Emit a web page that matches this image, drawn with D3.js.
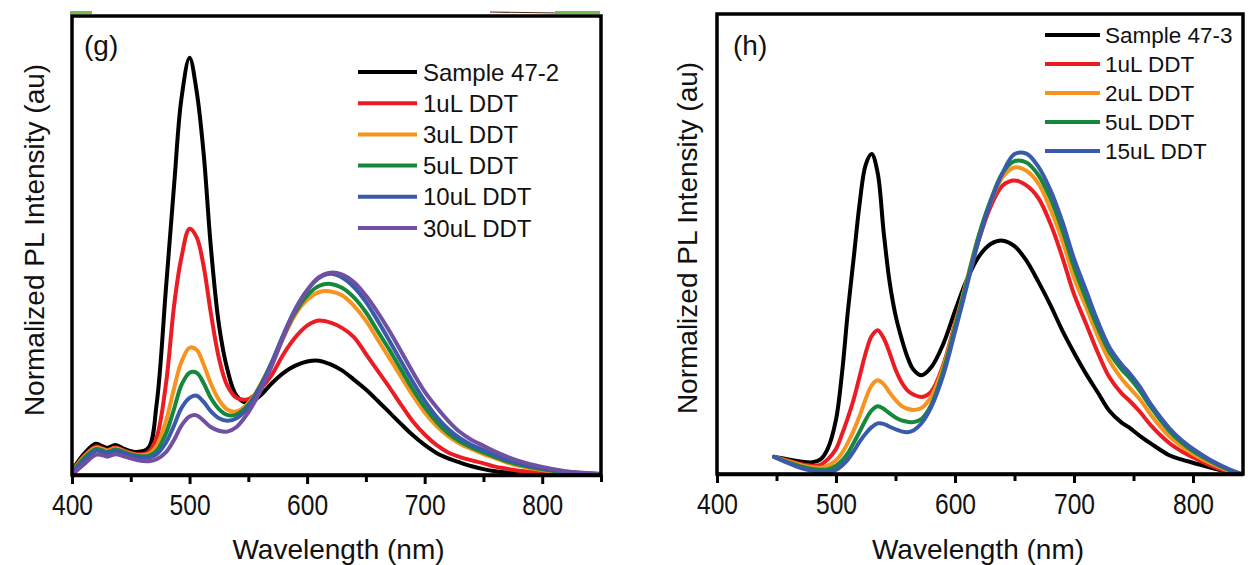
<!DOCTYPE html>
<html>
<head>
<meta charset="utf-8">
<script src="https://cdn.jsdelivr.net/npm/d3@7"></script>
<style>
  html, body { margin: 0; padding: 0; background: #fff; }
  svg { display: block; }
  text { font-family: "Liberation Sans", Arial, sans-serif; fill: #111; }
</style>
</head>
<body>
<svg id="chart" width="1248" height="565"></svg>
<script>
// ---------- Panel (g): Sample 47-2 with DDT additions ----------
const wavelengthsG = [400, 410, 420, 425, 430, 437, 445, 455, 465, 472, 480, 487, 493, 500, 506, 512, 518, 525, 532, 540,
  550, 560, 570, 580, 590, 600, 610, 620, 630, 640, 650, 660, 670, 680, 690, 700, 710, 720, 730, 740,
  750, 760, 770, 780, 800, 820, 850];
const seriesNamesG = ["Sample 47-2", "1uL DDT", "3uL DDT", "5uL DDT", "10uL DDT", "30uL DDT"];
const sample472 = [0.01, 0.05, 0.075, 0.07, 0.065, 0.072, 0.062, 0.055, 0.065, 0.17, 0.45, 0.70, 0.90, 1.0, 0.92, 0.77, 0.55, 0.36, 0.255, 0.19,
  0.172, 0.19, 0.22, 0.245, 0.262, 0.272, 0.274, 0.265, 0.25, 0.228, 0.205, 0.178, 0.15, 0.122, 0.095, 0.072, 0.053, 0.04, 0.03, 0.021,
  0.014, 0.009, 0.006, 0.004, 0.002, 0.001, 0.0];
const ddt1G = [0.008, 0.045, 0.068, 0.065, 0.06, 0.066, 0.058, 0.05, 0.055, 0.09, 0.22, 0.41, 0.52, 0.59, 0.57, 0.50, 0.39, 0.28, 0.215, 0.185,
  0.182, 0.205, 0.24, 0.29, 0.33, 0.358, 0.37, 0.365, 0.352, 0.33, 0.29, 0.25, 0.21, 0.168, 0.128, 0.097, 0.072, 0.054, 0.043, 0.035,
  0.028, 0.02, 0.015, 0.01, 0.006, 0.003, 0.0];
const ddt3G = [0.006, 0.043, 0.065, 0.063, 0.058, 0.064, 0.056, 0.048, 0.05, 0.07, 0.13, 0.21, 0.27, 0.305, 0.30, 0.265, 0.22, 0.18, 0.157, 0.152,
  0.172, 0.215, 0.27, 0.33, 0.385, 0.42, 0.438, 0.44, 0.43, 0.405, 0.37, 0.325, 0.28, 0.235, 0.19, 0.15, 0.118, 0.093, 0.075, 0.062,
  0.05, 0.04, 0.03, 0.022, 0.012, 0.006, 0.002];
const ddt5G = [0.005, 0.04, 0.062, 0.06, 0.055, 0.061, 0.054, 0.046, 0.046, 0.058, 0.10, 0.16, 0.215, 0.245, 0.245, 0.22, 0.185, 0.158, 0.144, 0.145,
  0.168, 0.213, 0.27, 0.335, 0.39, 0.43, 0.453, 0.458, 0.448, 0.425, 0.39, 0.345, 0.30, 0.252, 0.205, 0.163, 0.128, 0.10, 0.08, 0.066,
  0.054, 0.043, 0.033, 0.025, 0.014, 0.007, 0.002];
const ddt10G = [0.004, 0.035, 0.058, 0.057, 0.052, 0.058, 0.051, 0.043, 0.042, 0.05, 0.078, 0.12, 0.16, 0.185, 0.19, 0.175, 0.153, 0.136, 0.13, 0.136,
  0.163, 0.21, 0.27, 0.338, 0.398, 0.443, 0.472, 0.482, 0.473, 0.45, 0.415, 0.37, 0.322, 0.272, 0.223, 0.178, 0.14, 0.11, 0.088, 0.072,
  0.06, 0.048, 0.037, 0.028, 0.016, 0.008, 0.002];
const ddt30G = [0.0, 0.025, 0.048, 0.048, 0.044, 0.05, 0.044, 0.036, 0.033, 0.038, 0.055, 0.085, 0.118, 0.14, 0.143, 0.13, 0.115, 0.106, 0.104, 0.115,
  0.15, 0.2, 0.262, 0.332, 0.395, 0.442, 0.474, 0.485, 0.48, 0.462, 0.43, 0.39, 0.345, 0.296, 0.246, 0.2, 0.163, 0.13, 0.103, 0.084,
  0.07, 0.056, 0.044, 0.034, 0.019, 0.009, 0.003];

// ---------- Panel (h): Sample 47-3 with DDT additions ----------
const wavelengthsH = [448, 460, 470, 480, 487, 493, 500, 505, 510, 515, 520, 525, 530, 535, 540, 545, 550, 555, 560, 565,
  572, 580, 590, 600, 610, 620, 630, 640, 650, 660, 670, 680, 690, 700, 710, 720, 730, 740, 746, 755,
  765, 780, 790, 800, 815, 830, 840];
const seriesNamesH = ["Sample 47-3", "1uL DDT", "2uL DDT", "5uL DDT", "15uL DDT"];
const sample473 = [0.041, 0.035, 0.03, 0.028, 0.035, 0.06, 0.13, 0.24, 0.39, 0.52, 0.65, 0.74, 0.765, 0.72, 0.58, 0.46, 0.38, 0.325, 0.28, 0.25,
  0.236, 0.255, 0.31, 0.39, 0.465, 0.52, 0.55, 0.558, 0.545, 0.51, 0.46, 0.405, 0.344, 0.29, 0.24, 0.195, 0.15, 0.123, 0.112, 0.092,
  0.072, 0.045, 0.035, 0.027, 0.015, 0.005, 0.0];
const ddt1H = [0.041, 0.032, 0.024, 0.02, 0.022, 0.035, 0.06, 0.095, 0.135, 0.18, 0.235, 0.29, 0.33, 0.344, 0.325, 0.29, 0.25, 0.22, 0.2, 0.19,
  0.184, 0.197, 0.26, 0.36, 0.46, 0.56, 0.64, 0.69, 0.702, 0.69, 0.66, 0.60, 0.52, 0.43, 0.36, 0.29, 0.23, 0.193, 0.177, 0.15,
  0.115, 0.074, 0.055, 0.04, 0.02, 0.005, 0.0];
const ddt2H = [0.041, 0.03, 0.022, 0.016, 0.015, 0.02, 0.033, 0.05, 0.075, 0.105, 0.14, 0.18, 0.212, 0.224, 0.215, 0.195, 0.177, 0.163, 0.156, 0.153,
  0.158, 0.185, 0.255, 0.355, 0.465, 0.57, 0.65, 0.71, 0.733, 0.725, 0.695, 0.635, 0.56, 0.47, 0.40, 0.33, 0.27, 0.228, 0.208, 0.18,
  0.14, 0.09, 0.067, 0.048, 0.026, 0.008, 0.0];
const ddt5H = [0.041, 0.028, 0.018, 0.012, 0.01, 0.011, 0.02, 0.032, 0.05, 0.075, 0.102, 0.13, 0.152, 0.162, 0.156, 0.145, 0.135, 0.128, 0.125, 0.124,
  0.132, 0.165, 0.245, 0.35, 0.46, 0.57, 0.655, 0.72, 0.748, 0.745, 0.715, 0.66, 0.585, 0.495, 0.42, 0.35, 0.29, 0.25, 0.232, 0.2,
  0.158, 0.103, 0.076, 0.055, 0.03, 0.01, 0.0];
const ddt15H = [0.041, 0.026, 0.015, 0.008, 0.006, 0.005, 0.01, 0.02, 0.035, 0.055, 0.078, 0.097, 0.112, 0.121, 0.12, 0.113, 0.107, 0.102, 0.1, 0.104,
  0.122, 0.16, 0.235, 0.34, 0.45, 0.56, 0.65, 0.72, 0.765, 0.766, 0.735, 0.68, 0.605, 0.515, 0.44, 0.365, 0.302, 0.262, 0.243, 0.21,
  0.165, 0.11, 0.082, 0.06, 0.033, 0.012, 0.001];

const xTicks = [400, 500, 600, 700, 800];
const xMinorTicks = [450, 550, 650, 750, 850];
const colorsG = ["#000000", "#ec1c24", "#f7931e", "#16883c", "#3a5bab", "#7150a2"];
const colorsH = ["#000000", "#ec1c24", "#f7931e", "#16883c", "#3a5bab"];

const svg = d3.select("#chart");

// decorative remnants of the figure row above
svg.append("line").attr("x1", 70).attr("x2", 92).attr("y1", 12.5).attr("y2", 12.5)
  .attr("stroke", "#6cc04a").attr("stroke-width", 3);
svg.append("line").attr("x1", 490).attr("x2", 560).attr("y1", 12).attr("y2", 13)
  .attr("stroke", "#5a2a10").attr("stroke-width", 1.2);
svg.append("line").attr("x1", 555).attr("x2", 600).attr("y1", 12.5).attr("y2", 12.5)
  .attr("stroke", "#6cc04a").attr("stroke-width", 3);

function drawPanel(cfg) {
  const g = svg.append("g");
  const x = d3.scaleLinear().domain(cfg.xDomain).range([cfg.left, cfg.right]);
  const y = d3.scaleLinear().domain([0, 1.1]).range([cfg.bottom, cfg.top]);

  const clipId = "clip-" + cfg.id;
  svg.append("defs").append("clipPath").attr("id", clipId)
    .append("rect").attr("x", cfg.left).attr("y", cfg.top)
    .attr("width", cfg.right - cfg.left).attr("height", cfg.bottom - cfg.top);

  const line = d3.line()
    .x((d, i) => x(cfg.wavelengths[i]))
    .y(d => y(d))
    .curve(d3.curveCatmullRom.alpha(0.5));

  const curves = g.append("g").attr("clip-path", `url(#${clipId})`);
  cfg.series.forEach((vals, k) => {
    curves.append("path")
      .attr("d", line(vals))
      .attr("fill", "none")
      .attr("stroke", cfg.colors[k])
      .attr("stroke-width", 4)
      .attr("stroke-linejoin", "round")
      .attr("stroke-linecap", "round");
  });

  // frame
  g.append("rect")
    .attr("x", cfg.left).attr("y", cfg.top)
    .attr("width", cfg.right - cfg.left).attr("height", cfg.bottom - cfg.top)
    .attr("fill", "none").attr("stroke", "#000").attr("stroke-width", 3.5);

  // x axis: major ticks with labels
  const axis = g.append("g").attr("transform", `translate(0,${cfg.bottom})`)
    .call(d3.axisBottom(x).tickValues(xTicks).tickSize(9).tickSizeOuter(0).tickPadding(10).tickFormat(d3.format("d")));
  axis.select(".domain").attr("stroke-width", 3.5);
  axis.selectAll(".tick line").attr("stroke-width", 3);
  axis.selectAll(".tick text")
    .attr("font-size", 30)
    .attr("font-family", "Liberation Sans, Arial, sans-serif")
    .attr("fill", "#111")
    .attr("transform", "scale(0.82,1)");

  // minor ticks
  const minor = g.append("g").attr("transform", `translate(0,${cfg.bottom})`)
    .call(d3.axisBottom(x).tickValues(xMinorTicks.filter(v => v <= cfg.xDomain[1])).tickSize(7).tickSizeOuter(0).tickFormat(""));
  minor.select(".domain").remove();
  minor.selectAll(".tick line").attr("stroke-width", 3);

  // axis titles
  g.append("text")
    .attr("x", (cfg.left + cfg.right) / 2 + cfg.xTitleShift).attr("y", 559)
    .attr("text-anchor", "middle").attr("font-size", 28)
    .text("Wavelength (nm)");
  g.append("text")
    .attr("transform", `translate(${cfg.yTitleX},${cfg.yTitleY}) rotate(-90)`)
    .attr("text-anchor", "middle").attr("font-size", 28)
    .text("Normalized PL Intensity (au)");

  // panel letter
  g.append("text").attr("x", cfg.letterX).attr("y", 55).attr("font-size", 28).text(cfg.letter);

  // legend
  const lg = g.append("g");
  cfg.names.forEach((name, k) => {
    const ly = cfg.legend.y0 + k * cfg.legend.dy;
    lg.append("line")
      .attr("x1", cfg.legend.x1).attr("x2", cfg.legend.x2)
      .attr("y1", ly).attr("y2", ly)
      .attr("stroke", cfg.colors[k]).attr("stroke-width", 4);
    lg.append("text")
      .attr("x", cfg.legend.tx).attr("y", ly + 0.36 * cfg.legend.fs)
      .attr("font-size", cfg.legend.fs)
      .text(name);
  });
}

drawPanel({
  id: "g", letter: "(g)", letterX: 84,
  left: 72, right: 601, top: 16, bottom: 475,
  xDomain: [400, 850],
  wavelengths: wavelengthsG,
  series: [sample472, ddt1G, ddt3G, ddt5G, ddt10G, ddt30G],
  names: seriesNamesG, colors: colorsG,
  xTitleShift: 2, yTitleX: 44, yTitleY: 240,
  legend: { x1: 358, x2: 417, tx: 423, y0: 72, dy: 31.2, fs: 24 }
});

drawPanel({
  id: "h", letter: "(h)", letterX: 733,
  left: 717, right: 1243, top: 14, bottom: 474,
  xDomain: [400, 842],
  wavelengths: wavelengthsH,
  series: [sample473, ddt1H, ddt2H, ddt5H, ddt15H],
  names: seriesNamesH, colors: colorsH,
  xTitleShift: -2, yTitleX: 697, yTitleY: 238,
  legend: { x1: 1045, x2: 1100, tx: 1105, y0: 35, dy: 29, fs: 22.5 }
});
</script>
</body>
</html>
